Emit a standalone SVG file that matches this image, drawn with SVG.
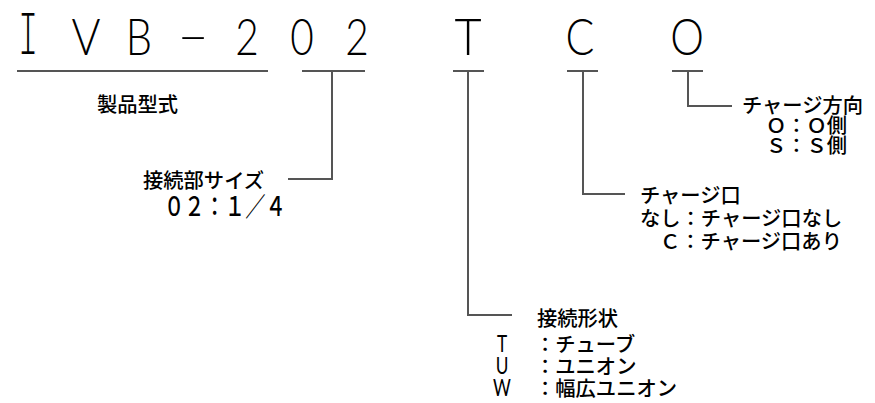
<svg xmlns="http://www.w3.org/2000/svg" width="875" height="403" viewBox="0 0 875 403">
<style>
.code{font-family:Lato,Roboto,"Liberation Sans",sans-serif;font-weight:300;font-size:52px;fill:#000;text-anchor:middle}
.mono{font-family:"Liberation Mono",monospace;font-weight:400;font-size:64px;stroke:#fff;stroke-width:2.2}
.lbl{font-family:"Noto Sans CJK JP",sans-serif;font-size:20.3px;font-weight:500;fill:#000}
.lat{font-family:Lato,"Liberation Sans",sans-serif;font-weight:400;font-size:23px;fill:#000;text-anchor:middle}
.ln{stroke:#555;stroke-width:2;fill:none}
</style>
<rect width="875" height="403" fill="#fff"/>
<g id="code">
<text class="code mono" transform="translate(28,55) scale(0.55,1)">I</text>
<text class="code" transform="translate(86,55) scale(0.85,1)">V</text>
<text class="code" transform="translate(139,55) scale(0.8,1)">B</text>
<text class="code" transform="translate(193,55)">−</text>
<text class="code" transform="translate(247,55) scale(0.78,1)">2</text>
<text class="code" transform="translate(302,55) scale(0.78,1)">0</text>
<text class="code" transform="translate(357,55) scale(0.78,1)">2</text>
<text class="code" transform="translate(468,55) scale(0.9,1)">T</text>
<text class="code" transform="translate(580,55) scale(0.82,1)">C</text>
<text class="code" transform="translate(687,55) scale(0.82,1)">O</text>
</g>
<g id="connectors">
<path class="ln" d="M17 71H268"/>
<path class="ln" d="M302 71H365M332 71V179H288"/>
<path class="ln" d="M453 71H484M468 71V315H512"/>
<path class="ln" d="M567 71H598M583 71V194H625"/>
<path class="ln" d="M672 71H703M688 71V106H732"/>
</g>
<g id="label-model">
<text class="lbl" x="97" y="112">製品型式</text>
</g>
<g id="label-size">
<text class="lbl" x="143" y="188">接続部サイズ</text>
<text class="lbl" transform="translate(164,216) scale(1,1.3)">０２：１／４</text>
</g>
<g id="label-shape">
<text class="lbl" x="537" y="326">接続形状</text>
<text class="lat" transform="translate(502,352) scale(0.75,1)">T</text>
<text class="lbl" x="535" y="352">：チューブ</text>
<text class="lat" transform="translate(502,374) scale(0.75,1)">U</text>
<text class="lbl" x="535" y="374">：ユニオン</text>
<text class="lat" transform="translate(502,396) scale(0.75,1)">W</text>
<text class="lbl" x="535" y="396">：幅広ユニオン</text>
</g>
<g id="label-port">
<text class="lbl" x="640" y="203">チャージ口</text>
<text class="lbl" x="640" y="226">なし：チャージ口なし</text>
<text class="lbl" x="660" y="249">Ｃ：チャージ口あり</text>
</g>
<g id="label-direction">
<text class="lbl" x="742" y="113">チャージ方向</text>
<text class="lbl" x="766" y="133">Ｏ：Ｏ側</text>
<text class="lbl" x="766" y="153">Ｓ：Ｓ側</text>
</g>
</svg>
